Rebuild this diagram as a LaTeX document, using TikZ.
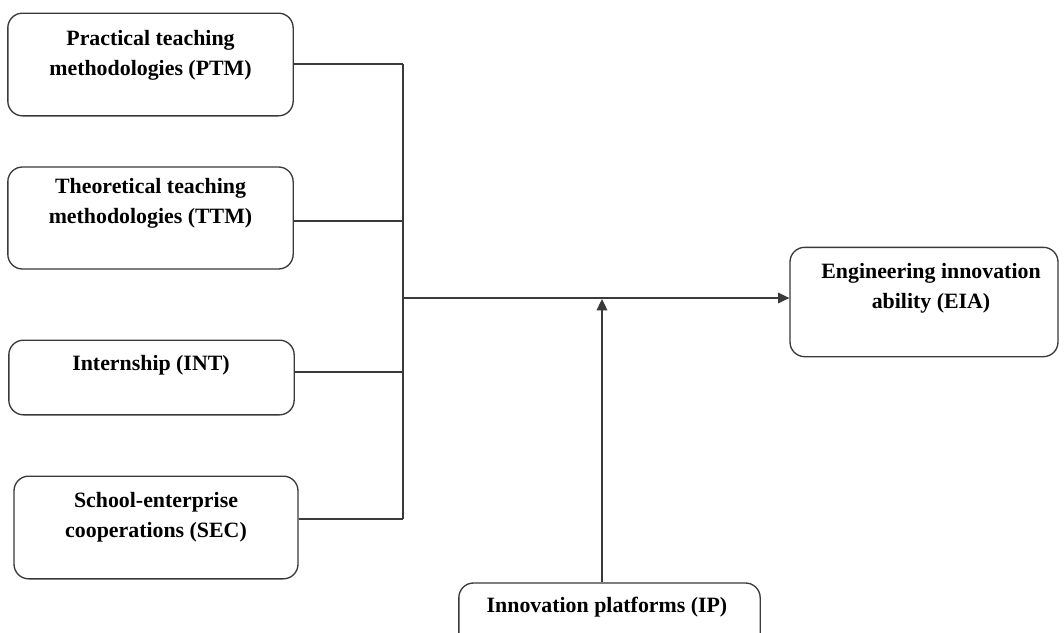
\documentclass[tikz,border=0pt]{standalone}
\usepackage{fontspec}
\setmainfont{Liberation Serif}
\usetikzlibrary{arrows.meta}
\definecolor{lc}{HTML}{3A3A3A}
\begin{document}
\begin{tikzpicture}[x=0.75pt,y=-0.75pt,
  box/.style={draw=lc, line width=1pt, rounded corners=11pt, inner sep=0pt, fill=white},
  txt/.style={font=\fontsize{16.4}{22.5}\selectfont\bfseries, align=center, inner sep=0pt, text=black},
  conn/.style={draw=lc, line width=0.9pt},
  arr/.style={conn, -{Triangle[length=8.5pt,width=8pt]}}]
\useasboundingbox (0,0) rectangle (1064,632);
\fill[white] (0,0) rectangle (1064,632);
% boxes
\node[box, minimum width=214pt, minimum height=77pt] (ptm) at (150.5,64.5) {};
\node[box, minimum width=214pt, minimum height=76.5pt] (ttm) at (150.5,218) {};
\node[box, minimum width=214pt, minimum height=56pt] (int) at (151.5,377.5) {};
\node[box, minimum width=213pt, minimum height=77pt] (sec) at (156,527.5) {};
\node[box, minimum width=201pt, minimum height=82pt] (eia) at (924,302) {};
\node[box, minimum width=226pt, minimum height=60pt] (ip) at (609.5,623) {};
% texts
\node[txt] (ptmt) at (150.5,55) {Practical teaching\\methodologies (PTM)};
\node[txt] (ttmt) at (150.5,203) {Theoretical teaching\\methodologies (TTM)};
\node[txt] (intt) at (151,365) {Internship (INT)};
\node[txt] (sect) at (156,517.5) {School-enterprise\\cooperations (SEC)};
\node[txt] (eiat) at (931,288) {Engineering innovation\\ability (EIA)};
\node[txt] (ipt) at (607,607) {Innovation platforms (IP)};
% junctions
\coordinate (t1) at (403,64);
\coordinate (t2) at (403,221);
\coordinate (t3) at (403,372);
\coordinate (t4) at (403,519);
\coordinate (hj) at (403,298);
\coordinate (mj) at (602,299);
% connectors
\draw[conn] (ptm.east |- t1) -- (t1);
\draw[conn] (ttm.east |- t2) -- (t2);
\draw[conn] (int.east |- t3) -- (t3);
\draw[conn] (sec.east |- t4) -- (t4);
\draw[conn] (t1) -- (t4);
\draw[arr] (hj) -- (eia.west |- hj);
\draw[arr] (ip.north -| mj) -- (mj);
\end{tikzpicture}
\end{document}
